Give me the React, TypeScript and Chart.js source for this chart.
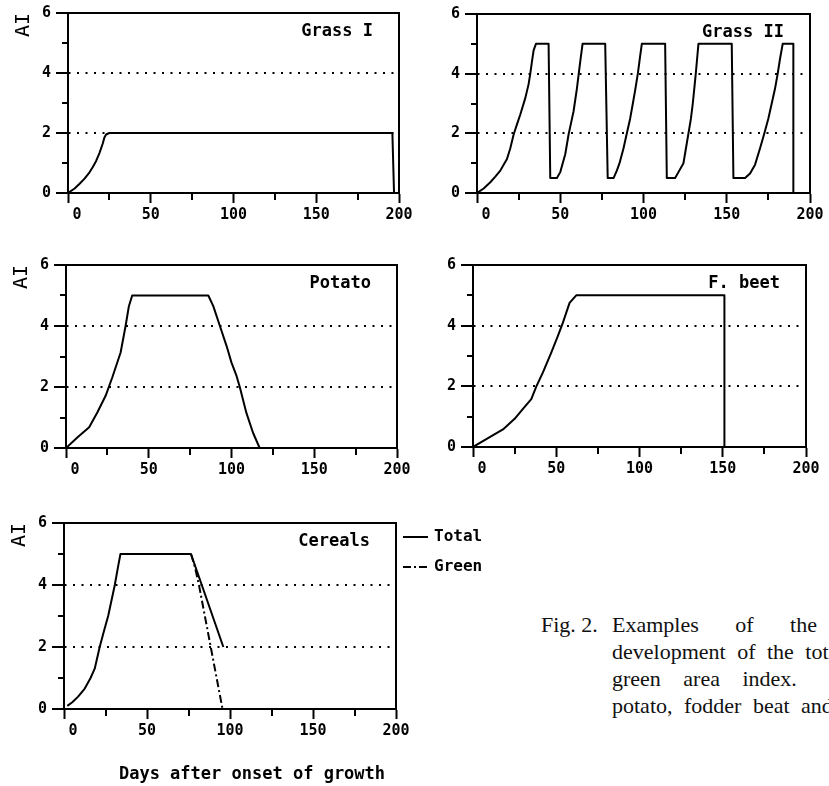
import React, { useEffect, useRef } from "react";
import { Chart, registerables } from "chart.js";

Chart.register(...registerables);

type Pt = [number, number];

// ---- axes / ticks ----
const X_TICK_VALUES = [0, 50, 100, 150, 200];
const X_MINOR_TICKS = [25, 75, 125, 175];
const Y_TICK_VALUES = [0, 2, 4, 6];
const Y_MINOR_TICKS = [1, 3, 5];
const DOTTED_LEVELS = [2, 4];

// ---- texts ----
const PANEL_TITLES = ["Grass I", "Grass II", "Potato", "F. beet", "Cereals"];
const SERIES_LABELS = ["Total", "Green"];
const Y_TITLE = "AI";
const X_TITLE = "Days after onset of growth";
const CAPTION_LABEL = "Fig. 2.";
const CAPTION_LINES = [
  "Examples of the",
  "development of the total and",
  "green area index.",
  "potato, fodder beat and",
];

// ---- data: [day, area index] ----
const GRASS1_TOTAL: Pt[] = [
  [0, 0], [4, 0.15], [7, 0.31], [10, 0.48], [13, 0.69], [15, 0.87], [17, 1.07],
  [19, 1.33], [21, 1.65], [22, 1.85], [23, 1.95], [25, 2], [196, 2], [197, 0],
];

const GRASS2_TOTAL: Pt[] = [
  [0, 0], [4, 0.15], [8, 0.36], [11, 0.55], [14, 0.75], [16, 0.95], [18, 1.14],
  [20, 1.5], [22, 1.96], [24, 2.3], [26, 2.63], [29, 3.18], [31, 3.65], [32, 4.0],
  [33, 4.4], [34, 4.78], [35.4, 5], [43, 5],
  [44, 0.5], [48, 0.5], [50, 0.7], [53, 1.3], [55, 1.96], [56.5, 2.35], [58, 2.74],
  [60, 3.5], [61, 3.95], [62, 4.4], [63.4, 5], [77, 5],
  [78.5, 0.5], [82, 0.5], [84, 0.75], [85.6, 1.0], [88, 1.5], [90, 2.0], [92, 2.5],
  [93.6, 3.0], [95, 3.45], [96.6, 4.0], [98, 4.6], [99, 5], [113, 5],
  [114, 0.5], [119, 0.5], [121.5, 0.75], [124, 1.0], [125.5, 1.5], [127, 2.0],
  [128.5, 2.5], [129.6, 3.0], [130.5, 3.5], [131.4, 4.0], [132.2, 4.5], [133, 5], [153, 5],
  [154, 0.5], [161, 0.5], [164, 0.65], [167, 0.95], [170, 1.5], [172.6, 2.0],
  [175, 2.5], [177, 3.0], [179, 3.5], [180.6, 4.0], [182, 4.5], [183.6, 5], [190, 5], [190, 0],
];

const POTATO_TOTAL: Pt[] = [
  [0, 0], [7, 0.35], [14, 0.68], [19, 1.17], [24, 1.72], [28, 2.32], [33, 3.13],
  [36, 4.0], [38, 4.65], [40, 5], [86, 5], [89, 4.65], [93, 4.0], [97, 3.35],
  [100, 2.8], [103, 2.37], [105, 2.0], [109, 1.15], [113, 0.5], [117, 0],
];

const FBEET_TOTAL: Pt[] = [
  [0, 0], [9, 0.29], [18, 0.58], [25, 0.93], [30, 1.26], [35, 1.58], [38, 1.99],
  [42, 2.46], [47, 3.11], [51, 3.66], [54, 4.1], [58, 4.75], [62, 5], [151, 5], [151, 0],
];

const CEREALS_TOTAL: Pt[] = [
  [2, 0.1], [5, 0.22], [8.5, 0.4], [12.5, 0.66], [16, 1.0], [18.5, 1.3], [21.5, 2.0],
  [24, 2.5], [26.6, 3.0], [30.6, 4.0], [32.6, 4.6], [34, 5], [76.5, 5], [96, 2],
];

const CEREALS_GREEN: Pt[] = [
  [76.5, 5], [79, 4.55], [81.3, 4.0], [95.5, 0],
];

// ---- styling ----
const FONT = "'DejaVu Sans Mono', monospace";
const YW = 60; // width reserved for y scale
const PT = 12; // top padding
const SOLID: number[] = [];
const DASH_DOT = [8, 3, 2, 3];

interface Series { label: string; data: Pt[]; dash: number[] }
interface PanelDef {
  title: string;
  series: Series[];
  left: number; top: number; w: number; h: number;
  padRight: number; xh: number;
  yTitle: boolean; legend: boolean; xTitle: boolean;
}

const PANELS: PanelDef[] = [
  { title: PANEL_TITLES[0], series: [{ label: SERIES_LABELS[0], data: GRASS1_TOTAL, dash: SOLID }],
    left: 68, top: 11, w: 331, h: 182, padRight: 25, xh: 35, yTitle: true, legend: false, xTitle: false },
  { title: PANEL_TITLES[1], series: [{ label: SERIES_LABELS[0], data: GRASS2_TOTAL, dash: SOLID }],
    left: 477, top: 12, w: 333, h: 181, padRight: 19, xh: 35, yTitle: false, legend: false, xTitle: false },
  { title: PANEL_TITLES[2], series: [{ label: SERIES_LABELS[0], data: POTATO_TOTAL, dash: SOLID }],
    left: 66, top: 263, w: 331, h: 185, padRight: 25, xh: 35, yTitle: true, legend: false, xTitle: false },
  { title: PANEL_TITLES[3], series: [{ label: SERIES_LABELS[0], data: FBEET_TOTAL, dash: SOLID }],
    left: 473, top: 263, w: 333, h: 184, padRight: 22, xh: 35, yTitle: false, legend: false, xTitle: false },
  { title: PANEL_TITLES[4], series: [
      { label: SERIES_LABELS[0], data: CEREALS_TOTAL, dash: SOLID },
      { label: SERIES_LABELS[1], data: CEREALS_GREEN, dash: DASH_DOT },
    ],
    left: 64, top: 521, w: 332, h: 188, padRight: 110, xh: 77, yTitle: true, legend: true, xTitle: true },
];

const TRANSPARENT = "rgba(0,0,0,0)";

function makeChart(canvas: HTMLCanvasElement, p: PanelDef) {
  const deco = {
    id: "deco",
    afterDraw(chart: any) {
      const { ctx, chartArea: a, scales } = chart;
      const xs = scales.x;
      const ys = scales.y;
      ctx.save();
      ctx.strokeStyle = "#000";
      ctx.lineWidth = 2;
      ctx.strokeRect(a.left, a.top, a.right - a.left, a.bottom - a.top);
      ctx.beginPath();
      for (const v of Y_MINOR_TICKS) {
        const y = Math.round(ys.getPixelForValue(v));
        ctx.moveTo(a.left, y);
        ctx.lineTo(a.left - 6, y);
      }
      for (const v of X_MINOR_TICKS) {
        const x = Math.round(xs.getPixelForValue(v));
        ctx.moveTo(x, a.bottom);
        ctx.lineTo(x, a.bottom + 7);
      }
      ctx.stroke();

      ctx.fillStyle = "#000";
      ctx.font = `bold 17px ${FONT}`;
      ctx.textAlign = "right";
      ctx.textBaseline = "middle";
      ctx.fillText(p.title, a.right - 26, a.top + 19);

      if (p.yTitle) {
        ctx.save();
        ctx.translate(a.left - 44, a.top + 12);
        ctx.rotate(-Math.PI / 2);
        ctx.font = `20px ${FONT}`;
        ctx.textAlign = "center";
        ctx.fillText(Y_TITLE, 0, 0);
        ctx.restore();
      }

      if (p.legend) {
        chart.data.datasets.forEach((ds: any, i: number) => {
          const y = a.top + 14 + i * 30;
          ctx.save();
          ctx.beginPath();
          ctx.setLineDash(ds.borderDash || []);
          ctx.lineWidth = 2;
          ctx.moveTo(a.right + 7, y);
          ctx.lineTo(a.right + 32, y);
          ctx.stroke();
          ctx.restore();
          ctx.font = `bold 16px ${FONT}`;
          ctx.textAlign = "left";
          ctx.textBaseline = "middle";
          ctx.fillText(ds.label, a.right + 38, y);
        });
      }

      if (p.xTitle) {
        ctx.font = `bold 17px ${FONT}`;
        ctx.textAlign = "center";
        ctx.textBaseline = "middle";
        ctx.fillText(X_TITLE, (a.left + a.right) / 2 + 22, a.bottom + 66);
      }
      ctx.restore();
    },
  };

  const tickFont = { family: FONT, size: 15, weight: "bold" as const };

  return new Chart(canvas, {
    type: "line",
    data: {
      datasets: p.series.map((s) => ({
        label: s.label,
        data: s.data.map(([x, y]) => ({ x, y })),
        borderColor: "#000",
        borderWidth: 2,
        borderDash: s.dash,
        borderJoinStyle: "round",
        pointRadius: 0,
        fill: false,
        tension: 0,
      })),
    },
    options: {
      animation: false,
      responsive: false,
      maintainAspectRatio: false,
      layout: { padding: { left: 0, top: PT, right: p.padRight, bottom: 0 } },
      plugins: {
        legend: { display: false },
        tooltip: { enabled: false },
      },
      scales: {
        x: {
          type: "linear",
          min: 0,
          max: 200,
          ticks: {
            stepSize: 25,
            autoSkip: false,
            maxRotation: 0,
            color: "#000",
            font: tickFont,
            padding: 3,
            callback: (v: any) =>
              X_TICK_VALUES.includes(Number(v)) ? (Number(v) === 0 ? "  0" : String(v)) : "",
          },
          grid: {
            drawOnChartArea: false,
            tickLength: 10,
            tickWidth: 2,
            tickColor: (c: any) =>
              c.tick && X_TICK_VALUES.includes(c.tick.value) ? "#000" : TRANSPARENT,
          },
          border: { display: true, color: "#000", width: 2 },
          afterFit: (s: any) => {
            s.height = p.xh;
          },
        },
        y: {
          type: "linear",
          min: 0,
          max: 6,
          ticks: {
            stepSize: 1,
            color: "#000",
            font: tickFont,
            padding: 5,
            callback: (v: any) => (Y_TICK_VALUES.includes(Number(v)) ? String(v) : ""),
          },
          grid: {
            color: (c: any) =>
              c.tick && DOTTED_LEVELS.includes(c.tick.value) ? "#000" : TRANSPARENT,
            lineWidth: 2,
            tickLength: 12,
            tickWidth: 2,
            tickColor: (c: any) =>
              c.tick && Y_TICK_VALUES.includes(c.tick.value) ? "#000" : TRANSPARENT,
          },
          border: { display: true, color: "#000", width: 2, dash: [2, 6.5], dashOffset: 0.5 },
          afterFit: (s: any) => {
            s.width = YW;
          },
        },
      },
    } as any,
    plugins: [deco],
  });
}

function Panel({ p }: { p: PanelDef }) {
  const ref = useRef<HTMLCanvasElement>(null);
  useEffect(() => {
    const chart = makeChart(ref.current as HTMLCanvasElement, p);
    return () => chart.destroy();
  }, [p]);
  const cl = p.left - YW;
  const ct = p.top - PT;
  const cw = p.w + YW + p.padRight;
  const ch = p.h + PT + p.xh;
  return (
    <canvas
      ref={ref}
      width={cw}
      height={ch}
      style={{ position: "absolute", left: cl, top: ct, width: cw, height: ch }}
    />
  );
}

const captionStyle: React.CSSProperties = {
  position: "absolute",
  fontFamily: "'Liberation Serif', 'Times New Roman', serif",
  fontSize: 22,
  lineHeight: "22px",
  whiteSpace: "nowrap",
  color: "#111",
};

const CAPTION_WORD_SPACING = [31, 6, 17, 6];

export default function App() {
  return (
    <div
      style={{
        position: "absolute",
        left: 0,
        top: 0,
        width: 829,
        height: 786,
        overflow: "hidden",
        background: "#fff",
      }}
    >
      {PANELS.map((p, i) => (
        <Panel key={i} p={p} />
      ))}
      <div style={{ ...captionStyle, left: 541, top: 614 }}>{CAPTION_LABEL}</div>
      {CAPTION_LINES.map((line, i) => (
        <div
          key={i}
          style={{ ...captionStyle, left: 612, top: 614 + i * 27, wordSpacing: CAPTION_WORD_SPACING[i] }}
        >
          {line}
        </div>
      ))}
    </div>
  );
}
